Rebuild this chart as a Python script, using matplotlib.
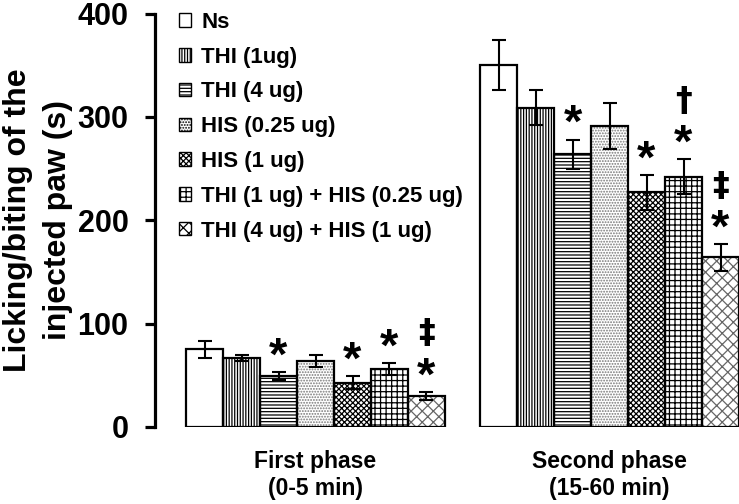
import numpy as np
import matplotlib
matplotlib.use("Agg")
import matplotlib.pyplot as plt
from matplotlib.patches import Patch

plt.rcParams['font.family'] = ['Liberation Sans', 'DejaVu Sans']
plt.rcParams['font.weight'] = 'bold'
plt.rcParams['hatch.linewidth'] = 0.9

# --- data ---
groups = ["Ns", "THI (1ug)", "THI (4 ug)", "HIS (0.25 ug)", "HIS (1 ug)",
          "THI (1 ug) + HIS (0.25 ug)", "THI (4 ug) + HIS (1 ug)"]
phases = ["First phase\n(0-5 min)", "Second phase\n(15-60 min)"]

first_mean = [75, 67, 49, 64, 43, 56, 30]
first_sem = [8, 3, 4, 6, 6, 6, 4]
second_mean = [350, 309, 264, 291, 227, 242, 164]
second_sem = [24, 17, 14, 22, 17, 17, 13]

# significance marks (bottom to top) for each bar
first_marks = ["", "", "*", "", "*", "*", "*‡"]
second_marks = ["", "", "*", "", "*", "*†", "*‡"]

hatches = ["", "||||||", "-----", "......", "xxxxxx", "+++", "xxx"]
hatch_cols = ["black", "black", "black", "#777777", "black", "black", "#666666"]

fig = plt.figure(figsize=(7.39, 5.04), dpi=100)
ax = fig.add_axes([155 / 739, 77 / 504, 584 / 739, 413.5 / 504])

width = 1.0
offsets = [0.0, 7.95]
for off, means, sems, marks in zip(offsets, [first_mean, second_mean],
                                   [first_sem, second_sem],
                                   [first_marks, second_marks]):
    x = off + np.arange(len(groups))
    for i in range(len(groups)):
        ax.bar(x[i], means[i], width, color="white", edgecolor=hatch_cols[i],
               hatch=hatches[i], linewidth=0, zorder=2)
        ax.bar(x[i], means[i], width, fill=False, edgecolor="black",
               linewidth=1.6, zorder=3)
    ax.errorbar(x, means, yerr=sems, fmt="none", ecolor="black",
                elinewidth=1.5, capsize=5, capthick=1.5, zorder=4)
    for i, m in enumerate(marks):
        y = means[i] + sems[i] + 20
        for ch in m:
            if ch == "*":
                ax.text(x[i], y - 6, ch, ha="center", va="center",
                        fontsize=34, fontweight="bold")
            else:
                ax.text(x[i], y, ch, ha="center", va="center", fontsize=24,
                        fontweight="bold", family="DejaVu Sans")
            y += 36
    ax.text(off + 3, -22, phases[offsets.index(off)], ha="center", va="top",
            fontsize=16.5, fontweight="bold", linespacing=1.25)

ax.set_xlim(-1.34, 14.45)
ax.set_ylim(0, 400)
ax.set_yticks([0, 100, 200, 300, 400])
ax.set_xticks([])
for s in ["top", "right", "bottom"]:
    ax.spines[s].set_visible(False)
ax.spines["left"].set_linewidth(2.3)
ax.tick_params(axis="y", direction="out", length=7, width=2.3, pad=12,
               labelsize=22)
for lab in ax.get_yticklabels():
    lab.set_fontweight("bold")

fig.text(38 / 739, 1 - 220 / 504, "Licking/biting of the\ninjected paw (s)",
         rotation=90, ha="center", va="center", fontsize=23,
         fontweight="bold", linespacing=1.4)

handles = [Patch(facecolor="white", edgecolor="black", hatch=h, linewidth=1)
           for h in hatches]
fig.legend(handles, groups, loc="upper left",
           bbox_to_anchor=(170 / 739, 1 - 3 / 504), frameon=False,
           handlelength=0.55, handleheight=0.55,
           handletextpad=0.45, labelspacing=0.62, borderaxespad=0,
           prop={"weight": "bold", "size": 16})

fig.savefig("out.png", dpi=100)
